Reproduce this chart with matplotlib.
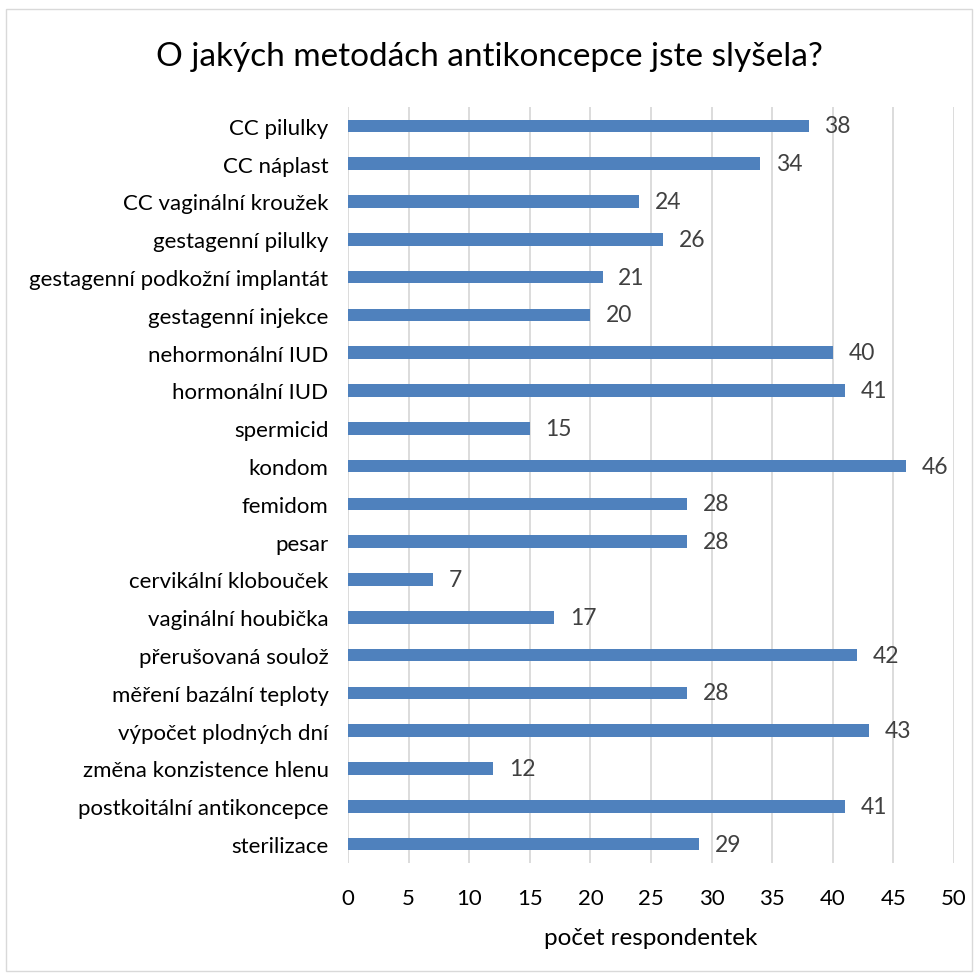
import matplotlib
matplotlib.use("Agg")
import matplotlib.pyplot as plt
from matplotlib.patches import Rectangle

plt.rcParams['font.family'] = ['Lato', 'DejaVu Sans']

categories = ["CC pilulky", "CC náplast", "CC vaginální kroužek", "gestagenní pilulky",
              "gestagenní podkožní implantát", "gestagenní injekce", "nehormonální IUD",
              "hormonální IUD", "spermicid", "kondom", "femidom", "pesar",
              "cervikální klobouček", "vaginální houbička", "přerušovaná soulož",
              "měření bazální teploty", "výpočet plodných dní", "změna konzistence hlenu",
              "postkoitální antikoncepce", "sterilizace"]
values = [38, 34, 24, 26, 21, 20, 40, 41, 15, 46, 28, 28, 7, 17, 42, 28, 43, 12, 41, 29]
xticks = [0, 5, 10, 15, 20, 25, 30, 35, 40, 45, 50]
title = "O jakých metodách antikoncepce jste slyšela?"
xlabel = "počet respondentek"

fig = plt.figure(figsize=(9.78, 9.78), dpi=100)
fig.patches.append(Rectangle((0.006, 0.006), 0.988, 0.984, transform=fig.transFigure,
                             fill=False, edgecolor='#D9D9D9', linewidth=1))
ax = fig.add_axes([0.3558, 0.1166, 0.6197, 0.773])

y = list(range(len(categories)))
ax.barh(y, values, height=0.33, color='#4F81BD', zorder=3)
for yi, v in zip(y, values):
    ax.text(v + 1.3, yi, str(v), va='center', ha='left', fontsize=16.5, color='#404040')

ax.set_ylim(len(categories) - 0.5, -0.5)
ax.set_xlim(0, 50)
ax.set_xticks(xticks)
ax.set_yticks(y)
ax.set_yticklabels(categories, fontsize=16, color='#000000')
ax.tick_params(axis='x', labelsize=16, length=0, pad=18, colors='#000000')
ax.tick_params(axis='y', length=0, pad=14)
ax.grid(axis='x', color='#D9D9D9', linewidth=1.3, zorder=0)
for s in ax.spines.values():
    s.set_visible(False)
ax.set_xlabel(xlabel, fontsize=17.5, labelpad=14)
fig.text(0.5, 0.942, title, ha='center', va='center', fontsize=24)

fig.savefig("out.png", dpi=100)
